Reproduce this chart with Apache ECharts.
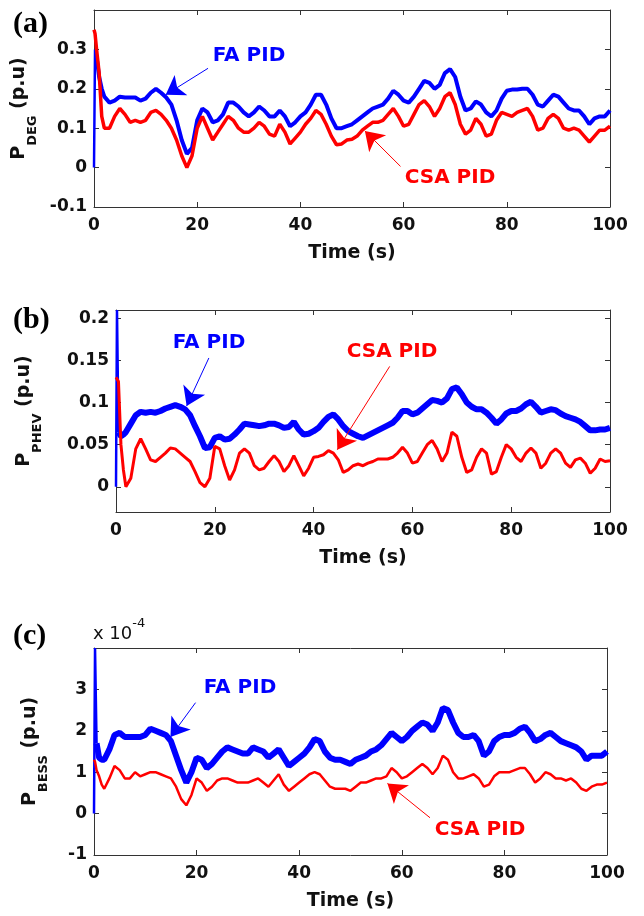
<!DOCTYPE html>
<html>
<head>
<meta charset="utf-8">
<script src="https://cdn.jsdelivr.net/npm/echarts@6/dist/echarts.min.js"></script>
<style>
html,body{margin:0;padding:0;background:#fff;}
#chart{width:644px;height:916px;}
</style>
</head>
<body>
<div id="chart"></div>
<script>
// ---------- data ----------
const time = [0, 0.2, 0.5, 1, 1.5, 2,
  3,4,5,6,7,8,9,10,11,12,13,14,15,16,17,18,19,20,
  21,22,23,24,25,26,27,28,29,30,31,32,33,34,35,36,37,38,39,40,
  41,42,43,44,45,46,47,48,49,50,51,52,53,54,55,56,57,58,59,60,
  61,62,63,64,65,66,67,68,69,70,71,72,73,74,75,76,77,78,79,80,
  81,82,83,84,85,86,87,88,89,90,91,92,93,94,95,96,97,98,99,100];

// (a) P_DEG (p.u)
const degFA = [0, 0.30, 0.28, 0.23, 0.20, 0.18,
  0.165, 0.17, 0.18, 0.178, 0.178, 0.178, 0.17, 0.175, 0.19, 0.2,
  0.19, 0.178, 0.16, 0.12, 0.07, 0.035, 0.05, 0.12,
  0.15, 0.14, 0.115, 0.12, 0.135, 0.165, 0.165, 0.155, 0.14, 0.13,
  0.14, 0.155, 0.145, 0.13, 0.13, 0.145, 0.13, 0.105, 0.115, 0.13,
  0.14, 0.16, 0.185, 0.185, 0.16, 0.125, 0.1, 0.1, 0.105, 0.11,
  0.12, 0.13, 0.14, 0.15, 0.155, 0.16, 0.175, 0.195, 0.185, 0.17,
  0.165, 0.18, 0.2, 0.22, 0.215, 0.2, 0.21, 0.24, 0.25, 0.23,
  0.18, 0.145, 0.15, 0.168, 0.16, 0.14, 0.13, 0.145, 0.175, 0.195,
  0.198, 0.198, 0.2, 0.2, 0.185, 0.16, 0.155, 0.17, 0.185, 0.18,
  0.165, 0.15, 0.145, 0.145, 0.13, 0.11, 0.125, 0.13, 0.13, 0.145];
const degCSA = [0.35, 0.34, 0.30, 0.24, 0.13, 0.10,
  0.10, 0.13, 0.15, 0.135, 0.115, 0.12, 0.115, 0.12, 0.14, 0.145,
  0.135, 0.12, 0.10, 0.07, 0.03, 0.0, 0.03, 0.10,
  0.13, 0.10, 0.07, 0.09, 0.11, 0.13, 0.12, 0.10, 0.09, 0.09,
  0.10, 0.115, 0.105, 0.085, 0.08, 0.11, 0.09, 0.06, 0.075, 0.09,
  0.11, 0.125, 0.145, 0.135, 0.11, 0.08, 0.058, 0.06, 0.07, 0.072,
  0.08, 0.095, 0.105, 0.115, 0.115, 0.12, 0.135, 0.15, 0.13, 0.105,
  0.11, 0.135, 0.16, 0.17, 0.155, 0.13, 0.15, 0.18, 0.19, 0.16,
  0.11, 0.085, 0.095, 0.125, 0.11, 0.08, 0.085, 0.12, 0.14, 0.135,
  0.13, 0.14, 0.145, 0.15, 0.13, 0.095, 0.10, 0.125, 0.135, 0.125,
  0.10, 0.095, 0.10, 0.095, 0.08, 0.065, 0.08, 0.095, 0.095, 0.105];

// (b) P_PHEV (p.u)
const phevFA = [0, 0.21, 0.065, 0.06, 0.062, 0.065,
  0.075, 0.085, 0.089, 0.088, 0.089, 0.088, 0.09, 0.093, 0.095, 0.097,
  0.095, 0.092, 0.085, 0.072, 0.06, 0.046, 0.047, 0.058,
  0.06, 0.056, 0.057, 0.062, 0.068, 0.075, 0.074, 0.073, 0.072, 0.073,
  0.075, 0.075, 0.073, 0.07, 0.071, 0.077, 0.068, 0.062, 0.063, 0.066,
  0.07, 0.077, 0.083, 0.086, 0.08, 0.072, 0.066, 0.063, 0.06, 0.058,
  0.061, 0.064, 0.067, 0.07, 0.073, 0.076, 0.082, 0.09, 0.09, 0.086,
  0.088, 0.093, 0.098, 0.103, 0.102, 0.1, 0.105, 0.116, 0.118, 0.11,
  0.1, 0.095, 0.092, 0.092, 0.088, 0.082, 0.075, 0.08, 0.087, 0.09,
  0.09, 0.093, 0.098, 0.101, 0.095, 0.088, 0.09, 0.092, 0.091, 0.087,
  0.084, 0.082, 0.08, 0.077, 0.072, 0.067, 0.067, 0.068, 0.068, 0.07];
const phevCSA = [0.13, 0.13, 0.125, 0.05, 0.02, 0.0,
  0.01, 0.045, 0.057, 0.045, 0.032, 0.03, 0.035, 0.04, 0.046, 0.045,
  0.04, 0.035, 0.03, 0.018, 0.005, 0.0, 0.01, 0.048,
  0.045, 0.025, 0.008, 0.02, 0.04, 0.045, 0.04, 0.025, 0.02, 0.022,
  0.03, 0.037, 0.03, 0.018, 0.025, 0.037, 0.025, 0.013, 0.022, 0.035,
  0.036, 0.038, 0.043, 0.04, 0.032, 0.017, 0.02, 0.025, 0.027, 0.025,
  0.028, 0.03, 0.033, 0.033, 0.033, 0.035, 0.04, 0.047, 0.04, 0.028,
  0.03, 0.04, 0.05, 0.055, 0.045, 0.03, 0.04, 0.065, 0.06, 0.035,
  0.017, 0.02, 0.035, 0.045, 0.04, 0.015, 0.018, 0.035, 0.05, 0.045,
  0.035, 0.03, 0.04, 0.046, 0.04, 0.022, 0.028, 0.04, 0.045, 0.04,
  0.028, 0.023, 0.032, 0.034, 0.028, 0.016, 0.022, 0.033, 0.03, 0.031];

// (c) P_BESS (p.u), in units of 1e-4 (axis shows "x 10^-4")
const bessFA = [0, 4.0, 1.7, 1.35, 1.3, 1.3,
  1.55, 1.9, 1.95, 1.85, 1.85, 1.85, 1.85, 1.9, 2.05, 2.0,
  1.95, 1.9, 1.75, 1.4, 1.05, 0.75, 1.0, 1.35,
  1.3, 1.1, 1.2, 1.35, 1.5, 1.6, 1.55, 1.5, 1.45, 1.45,
  1.6, 1.55, 1.5, 1.35, 1.45, 1.55, 1.35, 1.15, 1.25, 1.35,
  1.45, 1.6, 1.8, 1.75, 1.5, 1.35, 1.3, 1.3, 1.25, 1.2,
  1.3, 1.35, 1.4, 1.5, 1.55, 1.65, 1.8, 1.95, 1.85, 1.75,
  1.85, 2.0, 2.1, 2.2, 2.15, 2.0, 2.2, 2.55, 2.5, 2.2,
  1.95, 1.85, 1.85, 1.9, 1.75, 1.4, 1.5, 1.75, 1.85, 1.9,
  1.9, 1.95, 2.05, 2.1, 1.95, 1.75, 1.8, 1.9, 1.95, 1.85,
  1.75, 1.7, 1.65, 1.6, 1.5, 1.3, 1.4, 1.4, 1.4, 1.5];
const bessCSA = [1.3, 1.25, 1.05, 0.9, 0.7, 0.6,
  0.85, 1.15, 1.05, 0.85, 0.85, 1.0, 0.9, 0.95, 1.0, 1.0,
  0.95, 0.9, 0.85, 0.65, 0.35, 0.2, 0.45, 0.85,
  0.75, 0.55, 0.65, 0.8, 0.85, 0.85, 0.8, 0.75, 0.75, 0.75,
  0.8, 0.85, 0.75, 0.65, 0.8, 0.95, 0.7, 0.55, 0.65, 0.75,
  0.85, 0.95, 1.0, 0.95, 0.8, 0.65, 0.6, 0.6, 0.6, 0.55,
  0.65, 0.75, 0.75, 0.8, 0.85, 0.85, 0.9, 1.1, 1.0, 0.85,
  0.9, 1.0, 1.1, 1.2, 1.1, 0.95, 1.1, 1.4, 1.3, 1.0,
  0.85, 0.85, 0.9, 0.95, 0.85, 0.65, 0.7, 0.9, 1.0, 1.0,
  1.0, 1.05, 1.1, 1.1, 0.95, 0.75, 0.85, 1.0, 0.95, 0.85,
  0.85, 0.8, 0.85, 0.75, 0.6, 0.55, 0.65, 0.7, 0.7, 0.75];

// tick labels
const xTicks = [0, 20, 40, 60, 80, 100];
const degTicks = [-0.1, 0, 0.1, 0.2, 0.3];
const phevTicks = [0, 0.05, 0.1, 0.15, 0.2];
const bessTicks = [-1, 0, 1, 2, 3];

// annotation arrows [from, to] in data coordinates
const arrows = {
  degFA:  [[22.1, 0.252], [13.9, 0.185]],
  degCSA: [[59.4, 0.003], [52.5, 0.093]],
  phevFA: [[18.8, 0.153], [14.3, 0.096]],
  phevCSA:[[55.4, 0.143], [44.8, 0.044]],
  bessFA: [[19.8, 2.68], [14.9, 1.85]],
  bessCSA:[[65.5, -0.1], [57.2, 0.73]]
};

// ---------- chart ----------
const BLUE = '#0000ff', RED = '#ff0000', AX = '#333333';
const LBL = {fontFamily: 'DejaVu Sans', fontWeight: 'bold', fontSize: 17, color: '#111'};
const pairs = (ys, from, to) => time.map((t, i) => [t, ys[i]]).slice(from || 0, to);

const grids = [
  {left: 94, top: 10, width: 516, height: 197},
  {left: 116, top: 310, width: 494, height: 202},
  {left: 94, top: 648, width: 513, height: 207}
];
const yRanges = [[-0.1, 0.4, degTicks], [-0.03, 0.21, phevTicks], [-1, 4, bessTicks]];
const yNames = ['DEG', 'PHEV', 'BESS'];
const yGaps = [47, 72, 44];

const xAxes = [], yAxes = [];
grids.forEach((g, i) => {
  xAxes.push({
    type: 'value', gridIndex: i, min: 0, max: 100, position: 'bottom',
    name: 'Time (s)', nameLocation: 'middle', nameGap: 37,
    nameTextStyle: {fontFamily: 'DejaVu Sans', fontWeight: 'bold', fontSize: 19, color: '#111'},
    axisLine: {show: true, onZero: false, lineStyle: {color: AX, width: 1}},
    axisTick: {show: true, inside: true, length: 5, customValues: xTicks, lineStyle: {color: AX}},
    axisLabel: Object.assign({show: true, margin: 10, customValues: xTicks}, LBL),
    splitLine: {show: false}
  });
  xAxes.push({
    type: 'value', gridIndex: i, min: 0, max: 100, position: 'top',
    axisLine: {show: true, onZero: false, lineStyle: {color: AX, width: 1}},
    axisTick: {show: true, inside: true, length: 5, customValues: xTicks, lineStyle: {color: AX}},
    axisLabel: {show: false}, splitLine: {show: false}
  });
  const [mn, mx, tk] = yRanges[i];
  yAxes.push({
    type: 'value', gridIndex: i, min: mn, max: mx, position: 'left',
    name: '{m|P}{s|' + yNames[i] + '}{m| (p.u)}',
    nameLocation: 'middle', nameRotate: 90, nameGap: yGaps[i],
    nameTextStyle: {
      rich: {
        m: {fontFamily: 'DejaVu Sans', fontWeight: 'bold', fontSize: 19, color: '#111'},
        s: {fontFamily: 'DejaVu Sans', fontWeight: 'bold', fontSize: 13, color: '#111', padding: [26, 0, 0, 0]}
      }
    },
    axisLine: {show: true, onZero: false, lineStyle: {color: AX, width: 1}},
    axisTick: {show: true, inside: true, length: 5, customValues: tk, lineStyle: {color: AX}},
    axisLabel: Object.assign({show: true, margin: 7, customValues: tk}, LBL),
    splitLine: {show: false}
  });
  yAxes.push({
    type: 'value', gridIndex: i, min: mn, max: mx, position: 'right',
    axisLine: {show: true, onZero: false, lineStyle: {color: AX, width: 1}},
    axisTick: {show: true, inside: true, length: 5, customValues: tk, lineStyle: {color: AX}},
    axisLabel: {show: false}, splitLine: {show: false}
  });
});

function arrowLine(a, color) {
  return {
    silent: true, animation: false,
    symbol: ['none', 'arrow'], symbolSize: 18,
    lineStyle: {color: color, width: 1, type: 'solid'},
    label: {show: false},
    emphasis: {disabled: true},
    data: [[{coord: a[0]}, {coord: a[1]}]]
  };
}

function line(i, data, color, w, arr) {
  const s = {
    type: 'line', xAxisIndex: i * 2, yAxisIndex: i * 2,
    data: data, showSymbol: false, symbol: 'none',
    lineStyle: {color: color, width: w}, itemStyle: {color: color},
    clip: true, animation: false
  };
  if (arr) s.markLine = arrowLine(arr, color);
  return s;
}

const series = [
  // initial start-up spikes drawn thin, rest of each trace thick
  line(0, pairs(degFA, 0, 3), BLUE, 2.5),
  line(0, pairs(degFA, 2), BLUE, 4, arrows.degFA),
  line(0, pairs(degCSA), RED, 3.5, arrows.degCSA),
  line(1, pairs(phevFA, 0, 3), BLUE, 2.5),
  line(1, pairs(phevFA, 2), BLUE, 6, arrows.phevFA),
  line(1, pairs(phevCSA), RED, 3, arrows.phevCSA),
  line(2, pairs(bessFA, 0, 3), BLUE, 2.5),
  line(2, pairs(bessFA, 2), BLUE, 6, arrows.bessFA),
  line(2, pairs(bessCSA), RED, 2.5, arrows.bessCSA)
];

const annFont = {fontFamily: 'DejaVu Sans', fontWeight: 'bold', fontSize: 20};
function ann(x, y, text, color) {
  return {type: 'text', x: x, y: y, silent: true,
    style: Object.assign({text: text, fill: color, align: 'center', verticalAlign: 'middle'}, annFont)};
}
function panel(x, y, text) {
  return {type: 'text', x: x, y: y, silent: true,
    style: {text: text, fill: '#000', fontFamily: 'Liberation Serif', fontWeight: 'bold', fontSize: 30,
      align: 'left', verticalAlign: 'middle'}};
}

const chart = echarts.init(document.getElementById('chart'), null, {renderer: 'canvas'});
chart.setOption({
  animation: false,
  backgroundColor: '#fff',
  grid: grids.map(g => Object.assign({containLabel: false}, g)),
  xAxis: xAxes,
  yAxis: yAxes,
  series: series,
  graphic: [
    panel(13, 24, '(a)'), panel(13, 320, '(b)'), panel(13, 636, '(c)'),
    ann(249, 56, 'FA PID', BLUE), ann(450, 178, 'CSA PID', RED),
    ann(209, 343, 'FA PID', BLUE), ann(392, 352, 'CSA PID', RED),
    ann(240, 688, 'FA PID', BLUE), ann(480, 830, 'CSA PID', RED),
    {type: 'text', x: 93, y: 617, silent: true,
      style: {text: '{a|x 10}{b|-4}', verticalAlign: 'top',
        rich: {a: {fontFamily: 'DejaVu Sans', fontSize: 18, fill: '#111', color: '#111', padding: [8, 0, 0, 0]},
               b: {fontFamily: 'DejaVu Sans', fontSize: 13, fill: '#111', color: '#111', verticalAlign: 'top'}}}}
  ]
});
</script>
</body>
</html>
